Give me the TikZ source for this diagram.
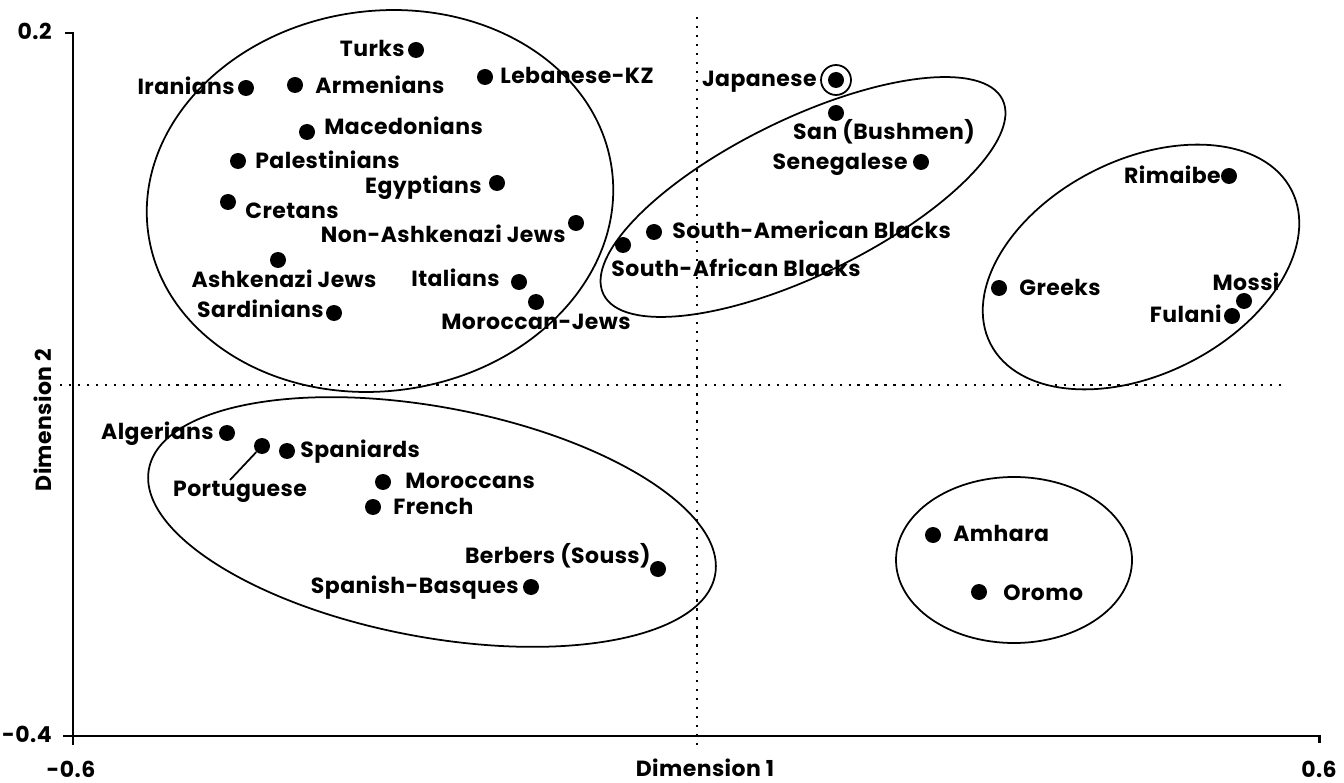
\documentclass[tikz,border=0pt]{standalone}
\usepackage{fontspec}
\newfontfamily\popfont{Poppins}[LetterSpace=2]
\begin{document}
\begin{tikzpicture}[x=0.02cm,y=-0.02cm,
  lab/.style={font=\popfont\bfseries\fontsize{12.5}{14}\selectfont, inner sep=0pt},
  le/.style={lab, anchor=mid east, yshift=-0.05cm},
  lw/.style={lab, anchor=mid west, yshift=-0.05cm},
  lb/.style={lab, anchor=base},
  pt/.style={circle, fill=black, inner sep=0pt, minimum size=0.32cm},
  ring/.style={line width=1pt},
  axis/.style={line width=1.7pt},
  dots/.style={line width=1.3pt, dash pattern=on 1.3pt off 3.8pt}]
\useasboundingbox (0,0) rectangle (1344,783);
% axes
\draw[axis] (65,33) -- (73,33) -- (73,745);
\draw[axis] (63,736) -- (1319,736) -- (1319,743);
\draw[dots] (697,17) -- (697,750);
\draw[dots] (60,385) -- (1285,385);
\node[le] (y02) at (52,33) {0.2};
\node[le] (y04) at (52,736) {-0.4};
\node[lb] (x06n) at (71,777) {-0.6};
\node[lb] (x06) at (1319,777) {0.6};
\node[lb] (d1) at (705,776) {Dimension 1};
\node[lab, rotate=90] (d2) at (43,420) {Dimension 2};
% ellipses
\draw[ring, rotate around={8:(380,201)}] (380,201) ellipse [x radius=234, y radius=190];
\draw[ring, rotate around={26:(803,197)}] (803,197) ellipse [x radius=222, y radius=78];
\draw[ring, rotate around={27:(1141,267)}] (1141,267) ellipse [x radius=169, y radius=107];
\draw[ring, rotate around={-10.6:(432,522)}] (432,522) ellipse [x radius=288, y radius=115];
\draw[ring] (1014,560) ellipse [x radius=118, y radius=83];
% upper-left group
\node[pt] (pTur) at (416,50) {};
\node[le] (lTur) at (405,50) {Turks};
\node[pt] (pLeb) at (485,77) {};
\node[lw] (lLeb) at (500,77) {Lebanese-KZ};
\node[pt] (pIra) at (246,88) {};
\node[le] (lIra) at (235,88) {Iranians};
\node[pt] (pArm) at (295,85) {};
\node[lw] (lArm) at (315,87) {Armenians};
\node[pt] (pMac) at (307,132) {};
\node[lw] (lMac) at (324,128) {Macedonians};
\node[pt] (pPal) at (238,161) {};
\node[lw] (lPal) at (255,162) {Palestinians};
\node[pt] (pEgy) at (497,183) {};
\node[le] (lEgy) at (482,187) {Egyptians};
\node[pt] (pCre) at (228,202) {};
\node[lw] (lCre) at (245,212) {Cretans};
\node[pt] (pNAJ) at (576,223) {};
\node[le] (lNAJ) at (566,236) {Non-Ashkenazi Jews};
\node[pt] (pAJ) at (278,260) {};
\node[lab] (lAJ) at (284,279) {Ashkenazi Jews};
\node[pt] (pIta) at (519,282) {};
\node[le] (lIta) at (500,280) {Italians};
\node[pt] (pMJ) at (536,302) {};
\node[lab] (lMJ) at (536,322) {Moroccan-Jews};
\node[pt] (pSar) at (334,313) {};
\node[le] (lSar) at (324,311) {Sardinians};
% Blacks group
\node[pt] (pJap) at (836,80) {};
\draw[ring] (pJap) circle [radius=15];
\node[le] (lJap) at (817,80) {Japanese};
\node[pt] (pSan) at (836,113) {};
\node[lab] (lSan) at (884,132) {San (Bushmen)};
\node[pt] (pSen) at (921,162) {};
\node[le] (lSen) at (908,163) {Senegalese};
\node[pt] (pSAm) at (654,232) {};
\node[lw] (lSAm) at (672,232) {South-American Blacks};
\node[pt] (pSAf) at (623,245) {};
\node[lab] (lSAf) at (736,268) {South-African Blacks};
% right group
\node[pt] (pRim) at (1229,176) {};
\node[le] (lRim) at (1221,177) {Rimaibe};
\node[pt] (pGre) at (999,288) {};
\node[lw] (lGre) at (1019,289) {Greeks};
\node[pt] (pMos) at (1244,301) {};
\node[lab] (lMos) at (1246,282) {Mossi};
\node[pt] (pFul) at (1232,316) {};
\node[le] (lFul) at (1222,316) {Fulani};
% lower-left group
\node[pt] (pAlg) at (227,433) {};
\node[le] (lAlg) at (214,433) {Algerians};
\node[pt] (pPor) at (262,446) {};
\coordinate (cPor) at (230,480);
\draw[line width=1pt] (pPor) -- (cPor);
\node[lab] (lPor) at (240,492) {Portuguese};
\node[pt] (pSpa) at (287,451) {};
\node[lw] (lSpa) at (300,451) {Spaniards};
\node[pt] (pMor) at (383,482) {};
\node[lw] (lMor) at (405,482) {Moroccans};
\node[pt] (pFre) at (373,507) {};
\node[lw] (lFre) at (393,508) {French};
\node[pt] (pBer) at (658,569) {};
\node[le] (lBer) at (651,557) {Berbers (Souss)};
\node[pt] (pBas) at (531,587) {};
\node[le] (lBas) at (519,587) {Spanish-Basques};
% lower-right group
\node[pt] (pAmh) at (933,535) {};
\node[lw] (lAmh) at (953,535) {Amhara};
\node[pt] (pOro) at (979,592) {};
\node[lw] (lOro) at (1003,594) {Oromo};
\end{tikzpicture}
\end{document}
